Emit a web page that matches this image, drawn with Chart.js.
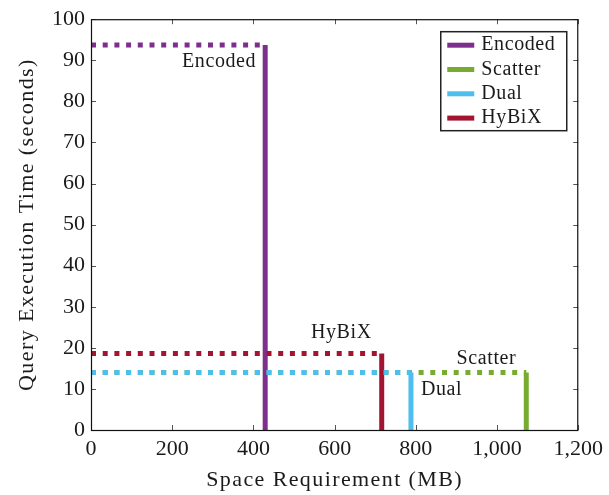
<!DOCTYPE html>
<html>
<head>
<meta charset="utf-8">
<script src="https://cdn.jsdelivr.net/npm/chart.js@4/dist/chart.umd.min.js"></script>
<style>
  html, body { margin: 0; padding: 0; background: #fff; }
  #wrap { width: 609px; height: 495px; }
</style>
</head>
<body>
<div id="wrap"><canvas id="c" width="609" height="495"></canvas></div>
<script>
// Index variants compared by footprint and query time
const methods = ['Encoded', 'Scatter', 'Dual', 'HyBiX'];
const spaceMB = [429, 1072, 788, 716];
const querySeconds = [93.7, 14.0, 14.0, 18.6];
const colors = ['#7E2F8E', '#77AC30', '#4DBEEE', '#A2142F'];
const xTicks = [0, 200, 400, 600, 800, 1000, 1200];
const yTicks = [0, 10, 20, 30, 40, 50, 60, 70, 80, 90, 100];
const xTitle = 'Space Requirement (MB)';
const yTitle = 'Query Execution Time (seconds)';

const FONT = '"Liberation Serif", "DejaVu Serif", serif';
const INK = '#1a1a1a';

// Stacking: smaller value is painted on top
const drawOrder = { Dual: 0, HyBiX: 1, Scatter: 2, Encoded: 3 };

// Label placement relative to the corner of each method's step
const labelStyle = {
  Encoded: { dx: -9,  dy: 17,  align: 'right' },
  Scatter: { dx: -10, dy: -14, align: 'right' },
  Dual:    { dx: 10,  dy: 17,  align: 'left' },
  HyBiX:   { dx: -10, dy: -21, align: 'right' }
};

// Each method: dotted line from the y-axis to its size, then solid drop to zero
const datasets = methods.map((m, i) => ({
  label: m,
  order: drawOrder[m],
  data: [
    { x: 0, y: querySeconds[i] },
    { x: spaceMB[i], y: querySeconds[i] },
    { x: spaceMB[i], y: 0 }
  ],
  borderColor: colors[i],
  backgroundColor: colors[i],
  borderWidth: 5,
  pointRadius: 0,
  showLine: true,
  borderCapStyle: 'butt',
  borderJoinStyle: 'miter',
  segment: {
    borderDash: ctx => ctx.p0DataIndex === 0 ? [5, 6.7] : undefined
  }
}));

function spacedText(ctx, text, x, y, spacing) {
  ctx.letterSpacing = spacing + 'px';
  ctx.fillText(text, x, y);
  ctx.letterSpacing = '0px';
}

const frameAndTicks = {
  id: 'frameAndTicks',
  afterDatasetsDraw(chart) {
    const { ctx, chartArea: a, scales } = chart;
    ctx.save();
    ctx.strokeStyle = '#555';
    ctx.lineWidth = 1;
    const len = 5;
    ctx.beginPath();
    xTicks.forEach(v => {
      const px = Math.round(scales.x.getPixelForValue(v)) + 0.5;
      ctx.moveTo(px, a.bottom); ctx.lineTo(px, a.bottom - len);
      ctx.moveTo(px, a.top); ctx.lineTo(px, a.top + len);
    });
    yTicks.forEach(v => {
      const py = Math.round(scales.y.getPixelForValue(v)) + 0.5;
      ctx.moveTo(a.left, py); ctx.lineTo(a.left + len, py);
      ctx.moveTo(a.right, py); ctx.lineTo(a.right - len, py);
    });
    ctx.stroke();
    ctx.strokeStyle = '#111';
    ctx.lineWidth = 1.2;
    ctx.strokeRect(a.left + 0.5, a.top + 0.5, a.right - a.left - 1, a.bottom - a.top);
    ctx.restore();
  }
};

const axisTitles = {
  id: 'axisTitles',
  afterDraw(chart) {
    const { ctx, chartArea: a } = chart;
    ctx.save();
    ctx.font = '22px ' + FONT;
    ctx.fillStyle = INK;
    ctx.textAlign = 'center';
    ctx.textBaseline = 'middle';
    spacedText(ctx, xTitle, (a.left + a.right) / 2, 480, 1.4);
    ctx.translate(27, (a.top + a.bottom) / 2);
    ctx.rotate(-Math.PI / 2);
    spacedText(ctx, yTitle, 0, 0, 1.4);
    ctx.restore();
  }
};

const markLabels = {
  id: 'markLabels',
  afterDatasetsDraw(chart) {
    const { ctx, scales } = chart;
    ctx.save();
    ctx.font = '20px ' + FONT;
    ctx.fillStyle = INK;
    ctx.textBaseline = 'middle';
    methods.forEach((m, i) => {
      const s = labelStyle[m];
      const px = scales.x.getPixelForValue(spaceMB[i]);
      const py = scales.y.getPixelForValue(querySeconds[i]);
      ctx.textAlign = s.align;
      spacedText(ctx, m, px + s.dx, py + s.dy, 0.6);
    });
    ctx.restore();
  }
};

const boxedLegend = {
  id: 'boxedLegend',
  afterDraw(chart) {
    const { ctx, chartArea: a } = chart;
    const right = a.right - 12, top = a.top + 12;
    const w = 126, rowH = 24.3, h = 99;
    const left = right - w;
    ctx.save();
    ctx.fillStyle = '#fff';
    ctx.fillRect(left, top, w, h);
    ctx.strokeStyle = '#222';
    ctx.lineWidth = 1.5;
    ctx.strokeRect(left + 0.5, top + 0.5, w, h);
    ctx.font = '20px ' + FONT;
    ctx.textBaseline = 'middle';
    ctx.textAlign = 'left';
    methods.forEach((m, i) => {
      const cy = top + 14 + rowH * i;
      ctx.strokeStyle = colors[i];
      ctx.lineWidth = 5;
      ctx.beginPath();
      ctx.moveTo(left + 7, cy);
      ctx.lineTo(left + 34, cy);
      ctx.stroke();
      ctx.fillStyle = INK;
      spacedText(ctx, m, left + 41, cy, 0.6);
    });
    ctx.restore();
  }
};

new Chart(document.getElementById('c'), {
  type: 'scatter',
  data: { datasets },
  options: {
    responsive: false,
    animation: false,
    layout: { padding: { left: 0, right: 29, top: 19, bottom: 0 } },
    plugins: { legend: { display: false }, tooltip: { enabled: false } },
    scales: {
      x: {
        type: 'linear', min: 0, max: 1200,
        afterBuildTicks: s => { s.ticks = xTicks.map(v => ({ value: v })); },
        afterFit: s => { s.height = 65; },
        grid: { display: false, drawTicks: false },
        border: { display: false },
        ticks: {
          padding: 6,
          color: INK,
          font: { family: FONT, size: 22 },
          maxRotation: 0,
          callback: v => v.toLocaleString('en-US')
        },
        title: { display: false }
      },
      y: {
        type: 'linear', min: 0, max: 100,
        afterBuildTicks: s => { s.ticks = yTicks.map(v => ({ value: v })); },
        afterFit: s => { s.width = 91; },
        grid: { display: false, drawTicks: false },
        border: { display: false },
        ticks: {
          padding: 6,
          color: INK,
          font: { family: FONT, size: 22 }
        },
        title: { display: false }
      }
    }
  },
  plugins: [frameAndTicks, markLabels, boxedLegend, axisTitles]
});
</script>
</body>
</html>
